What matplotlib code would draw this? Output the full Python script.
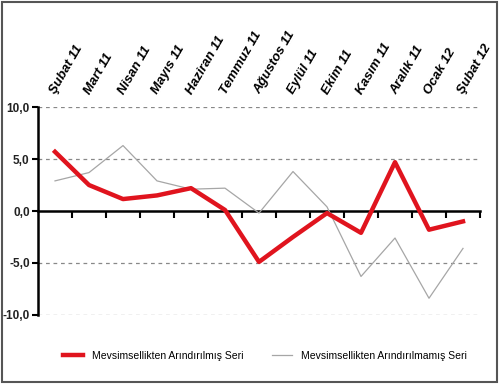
import matplotlib
matplotlib.use("Agg")
import matplotlib.pyplot as plt
from matplotlib.ticker import FuncFormatter, FixedLocator
from matplotlib.patches import Rectangle

months = ["Şubat 11", "Mart 11", "Nisan 11", "Mayıs 11", "Haziran 11", "Temmuz 11",
          "Ağustos 11", "Eylül 11", "Ekim 11", "Kasım 11", "Aralık 11", "Ocak 12", "Şubat 12"]
seasonally_adjusted = [5.7, 2.5, 1.15, 1.5, 2.2, 0.1, -4.9, -2.5, -0.2, -2.1, 4.7, -1.8, -1.0]
not_adjusted = [2.9, 3.7, 6.3, 2.9, 2.1, 2.2, -0.2, 3.8, 0.4, -6.3, -2.6, -8.4, -3.6]
yticks = [-10, -5, 0, 5, 10]

plt.rcParams['font.family'] = ['Liberation Sans', 'DejaVu Sans']

fig = plt.figure(figsize=(5, 3.84), dpi=100)
fig.patches.append(Rectangle((0.004, 0.004), 0.99, 0.99, transform=fig.transFigure,
                             fill=False, edgecolor='#555555', linewidth=1.5))
ax = fig.add_axes([0.076, 0.18, 0.884, 0.541])

x = list(range(len(months)))
ax.plot(x, not_adjusted, color='#a6a6a6', linewidth=0.9, label='Mevsimsellikten Arındırılmamış Seri', zorder=3)
ax.plot(x, seasonally_adjusted, color='#e0141e', linewidth=3.2, label='Mevsimsellikten Arındırılmış Seri', zorder=4)

ax.set_xlim(-0.5, len(months) - 0.5)
ax.set_ylim(-10, 10)
ax.set_yticks(yticks)
ax.yaxis.set_major_formatter(FuncFormatter(lambda v, p: f"{v:.1f}".replace('.', ',')))
for t in ax.get_yticklabels():
    t.set_fontweight('bold')
    t.set_fontsize(8.5)
    t.set_color('#222222')
ax.tick_params(axis='y', length=4, width=1.5, direction='out', pad=2)

for v in yticks:
    if v != 0:
        ax.axhline(v, color='#888888', linestyle=(0, (3, 3)), linewidth=0.9, zorder=1)

for s in ['top', 'right']:
    ax.spines[s].set_visible(False)
ax.spines['left'].set_linewidth(1.8)
ax.spines['bottom'].set_position(('data', 0))
ax.spines['bottom'].set_linewidth(1.8)
ax.xaxis.set_major_locator(FixedLocator([i + 0.5 for i in range(len(months))]))
ax.tick_params(axis='x', length=5, width=1.5, direction='out', labelbottom=False)

sec = ax.secondary_xaxis('top')
sec.set_xticks([i + 0.1 for i in x])
sec.set_xticklabels(months, rotation=60, ha='left', rotation_mode='anchor',
                    fontweight='bold', fontstyle='italic', fontsize=9.5)
sec.tick_params(length=0, pad=8)
sec.spines['top'].set_visible(False)

handles, labels = ax.get_legend_handles_labels()
fig.legend(handles[::-1], labels[::-1], loc='center', bbox_to_anchor=(0.53, 0.073), ncol=2,
           frameon=False, fontsize=7.5, handlelength=1.9, handletextpad=0.9,
           columnspacing=2.7)

fig.savefig('out.png', dpi=100)
